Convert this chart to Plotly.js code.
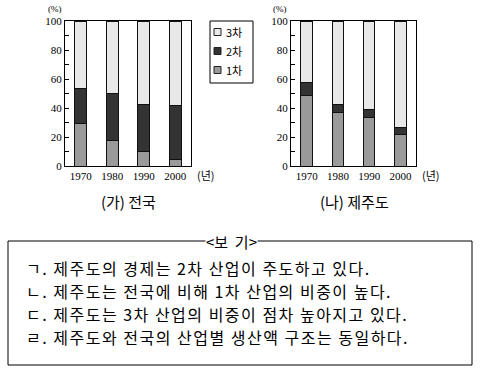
<!DOCTYPE html>
<html><head><meta charset="utf-8">
<script src="https://cdn.plot.ly/plotly-3.0.1.min.js"></script>
<style>body{margin:0;background:#fff}#c{width:480px;height:372px}
.annotation-text[data-unformatted*="다."]{letter-spacing:1.5px}</style>
</head><body><div id="c"></div>
<script>
const years = ['1970','1980','1990','2000'];
const national1 = [29, 17.5, 9.7, 4.6];
const national2 = [24.6, 32.8, 32.8, 37.2];
const national3 = [46.4, 49.7, 57.5, 58.2];
const jeju1 = [48.5, 37.2, 33.3, 21.6];
const jeju2 = [9.4, 5.3, 5.8, 4.8];
const jeju3 = [42.1, 57.5, 60.9, 73.6];
const seriesNames = ['1차','2차','3차'];
const colors = ['#9a9a9a','#333333','#e8e8e8'];
const yTickVals = [0,10,20,30,40,50,60,70,80,90,100];
const yTickText = ['0','','20','','40','','60','','80','','100'];
const subtitles = ['(가) 전국','(나) 제주도'];
const boxTitle = '<보  기>';
const items = ['ㄱ. 제주도의 경제는 2차 산업이 주도하고 있다.',
  'ㄴ. 제주도는 전국에 비해 1차 산업의 비중이 높다.',
  'ㄷ. 제주도는 3차 산업의 비중이 점차 높아지고 있다.',
  'ㄹ. 제주도와 전국의 산업별 생산액 구조는 동일하다.'];

const serif = '"Liberation Serif","DejaVu Serif",serif';
const kfont = '"Noto Sans CJK KR","Noto Sans CJK SC",sans-serif';
const W=480,H=372;
const px = v=>v/W, py = v=>1-v/H;
const traces = [];
[[national1,national2,national3],[jeju1,jeju2,jeju3]].forEach((set,si)=>{
  set.forEach((vals,i)=>{
    traces.push({type:'bar',x:years,y:vals,name:seriesNames[i],
      xaxis: si?'x2':'x', yaxis: si?'y2':'y',
      marker:{color:colors[i],line:{color:'#111',width:1}},
      showlegend:false, hoverinfo:'skip'});
  });
});
function xa(d){return {domain:d,type:'category',range:[-0.5,3.5],showline:true,mirror:true,linecolor:'#000',linewidth:1,
  ticks:'',tickfont:{family:serif,size:11,color:'#000'},fixedrange:true,showgrid:false,zeroline:false};}
function ya(){return {domain:[py(166),py(21)],range:[0,100],tickvals:yTickVals,ticktext:yTickText,ticks:'inside',ticklen:4,tickcolor:'#000',
  showline:true,mirror:true,linecolor:'#000',linewidth:1,showgrid:false,zeroline:false,tickfont:{family:serif,size:11,color:'#000'},fixedrange:true};}
const ann = [];
const shapes = [];
function A(x,y,text,font,xanchor,extra){
  return Object.assign({xref:'paper',yref:'paper',x:px(x),y:py(y),xanchor:xanchor||'center',yanchor:'middle',text:text,showarrow:false,font:font},extra||{});
}
[[55,9],[280,9]].forEach(p=>ann.push(A(p[0],p[1],'(%)',{family:serif,size:9,color:'#000'},'center',{borderpad:0})));
[[195,175],[420,175]].forEach(p=>ann.push(A(p[0],p[1],'(년)',{family:kfont,size:11,color:'#000'},'left')));
[[128,201],[354,201]].forEach((p,i)=>ann.push(A(p[0],p[1],subtitles[i],{family:kfont,size:15,color:'#000'})));
// legend (manual)
shapes.push({type:'rect',xref:'paper',yref:'paper',x0:px(210),x1:px(253),y0:py(83),y1:py(21),line:{color:'#000',width:1},fillcolor:'#fff'});
[2,1,0].forEach((si,k)=>{
  const yc = 32 + k*19;
  shapes.push({type:'rect',xref:'paper',yref:'paper',x0:px(214),x1:px(221),y0:py(yc+3.5),y1:py(yc-3.5),line:{color:'#222',width:1},fillcolor:colors[si]});
  ann.push(A(224,yc,seriesNames[si],{family:kfont,size:11,color:'#000'},'left'));
});
// 보기 box
shapes.push({type:'rect',xref:'paper',yref:'paper',x0:px(8),x1:px(472),y0:py(365),y1:py(241),line:{color:'#000',width:1}});
ann.push(A(231,241,boxTitle,{family:kfont,size:15,color:'#000'},'center',{bgcolor:'#fff',borderpad:0}));
[268,291,314,337].forEach((y,i)=>ann.push(A(24,y,items[i],{family:kfont,size:16,color:'#000'},'left')));
const layout = {width:W,height:H,margin:{l:0,r:0,t:0,b:0},paper_bgcolor:'#fff',plot_bgcolor:'#fff',
  barmode:'stack',bargap:0.63,showlegend:false,
  xaxis:xa([px(65),px(191)]),yaxis:ya(),
  xaxis2:xa([px(291),px(416)]),yaxis2:ya(),
  shapes:shapes, annotations:ann};
layout.yaxis2.anchor='x2'; layout.xaxis2.anchor='y2';
Plotly.newPlot('c',traces,layout,{staticPlot:true});
</script></body></html>
